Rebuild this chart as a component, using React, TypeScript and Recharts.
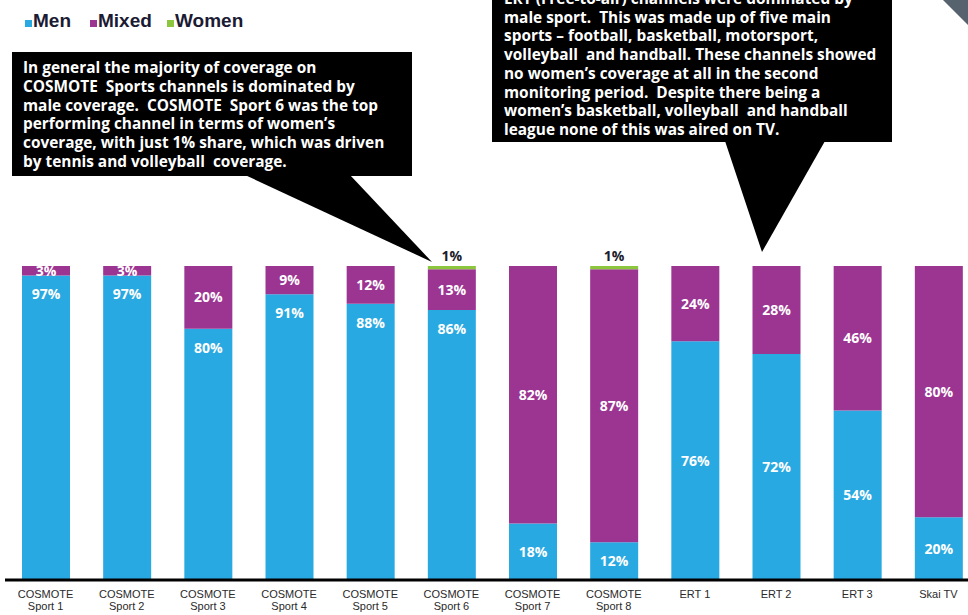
import React from 'react';
import { BarChart, Bar, XAxis, YAxis, LabelList } from 'recharts';

const categories = [
  'COSMOTE\nSport 1', 'COSMOTE\nSport 2', 'COSMOTE\nSport 3', 'COSMOTE\nSport 4',
  'COSMOTE\nSport 5', 'COSMOTE\nSport 6', 'COSMOTE\nSport 7', 'COSMOTE\nSport 8',
  'ERT 1', 'ERT 2', 'ERT 3', 'Skai TV',
];
const men = [97, 97, 80, 91, 88, 86, 18, 12, 76, 72, 54, 20];
const mixed = [3, 3, 20, 9, 12, 13, 82, 87, 24, 28, 46, 80];
const women = [0, 0, 0, 0, 0, 1, 0, 1, 0, 0, 0, 0];

const note1 = [
  'In general the majority of coverage on',
  'COSMOTE  Sports channels is dominated by',
  'male coverage.  COSMOTE  Sport 6 was the top',
  'performing channel in terms of women\u2019s',
  'coverage, with just 1% share, which was driven',
  'by tennis and volleyball  coverage.',
];
const note2 = [
  'ERT (Free-to-air) channels were dominated by',
  'male sport.  This was made up of five main',
  'sports \u2013 football, basketball, motorsport,',
  'volleyball  and handball. These channels showed',
  'no women\u2019s coverage at all in the second',
  'monitoring period.  Despite there being a',
  'women\u2019s basketball, volleyball  and handball',
  'league none of this was aired on TV.',
];

const MEN = '#29a9e1';
const MIXED = '#9c3592';
const WOMEN = '#8cc63f';
const labelFont = '"Open Sans", sans-serif';

const data = categories.map((name, i) => ({
  name,
  Men: men[i],
  Mixed: mixed[i],
  Women: women[i],
}));

const CategoryTick = (props: any) => {
  const { x, y, payload } = props;
  const lines = String(payload.value).split('\n');
  return (
    <text x={x} y={y} textAnchor="middle" fill="#2a2a2a"
      style={{ fontFamily: '"Liberation Sans", Arial, sans-serif', fontSize: 11 }}>
      {lines.map((l, k) => (
        <tspan key={k} x={x} dy={k === 0 ? 10 : 12}>{l}</tspan>
      ))}
    </text>
  );
};

const MenLabel = (props: any) => {
  const { x, y, width, height, value, index } = props;
  const cy = index < 6 ? y + 19 : y + height / 2;
  return (
    <text x={x + width / 2} y={cy} dy={5} textAnchor="middle" fill="#fff"
      style={{ fontFamily: labelFont, fontWeight: 700, fontSize: 14 }}>
      {value}%
    </text>
  );
};

const MixedLabel = (props: any) => {
  const { x, y, width, height, value } = props;
  return (
    <text x={x + width / 2} y={y + height / 2} dy={5} textAnchor="middle" fill="#fff"
      style={{ fontFamily: labelFont, fontWeight: 700, fontSize: 14 }}>
      {value}%
    </text>
  );
};

const WomenLabel = (props: any) => {
  const { x, y, width, value } = props;
  if (!value) return null;
  return (
    <text x={x + width / 2} y={y - 5} textAnchor="middle" fill="#1c1c2c"
      style={{ fontFamily: labelFont, fontWeight: 700, fontSize: 14 }}>
      {value}%
    </text>
  );
};

const Callouts = () => (
  <svg width={968} height={615} style={{ position: 'absolute', left: 0, top: 0, pointerEvents: 'none' }}>
    <polygon points="943,0 968,0 968,25" fill="#56626e" />
    <rect x={12} y={52} width={400} height={124} fill="#000" />
    <polygon points="245,175 350,175 432,262" fill="#000" />
    {note1.map((l, i) => (
      <text key={i} x={23} y={73 + i * 18.8} fill="#fff" xmlSpace="preserve"
        style={{ fontFamily: labelFont, fontWeight: 700, fontSize: 15.4 }}>{l}</text>
    ))}
    <rect x={492} y={-10} width={400} height={152} fill="#000" />
    <polygon points="725,141 825,141 762,252" fill="#000" />
    {note2.map((l, i) => (
      <text key={i} x={504} y={4 + i * 18.7} fill="#fff" xmlSpace="preserve"
        style={{ fontFamily: labelFont, fontWeight: 700, fontSize: 15.4 }}>{l}</text>
    ))}
  </svg>
);

const Legend = () => {
  const items = [
    { name: 'Men', color: MEN, x: 25 },
    { name: 'Mixed', color: MIXED, x: 90 },
    { name: 'Women', color: WOMEN, x: 167 },
  ];
  return (
    <svg width={300} height={40} style={{ position: 'absolute', left: 0, top: 0 }}>
      {items.map((it) => (
        <g key={it.name}>
          <rect x={it.x} y={20} width={7} height={7} fill={it.color} />
          <text x={it.x + 8} y={27} fill="#1b1b33"
            style={{ fontFamily: '"Liberation Sans", Arial, sans-serif', fontWeight: 700, fontSize: 19 }}>
            {it.name}
          </text>
        </g>
      ))}
    </svg>
  );
};

export default function App() {
  return (
    <div style={{ position: 'absolute', left: 0, top: 0, width: 968, height: 615, overflow: 'hidden', background: '#fff' }}>
      <BarChart width={990} height={615} data={data} barSize={48}
        margin={{ top: 266, right: 11, left: 5, bottom: 0 }}>
        <XAxis dataKey="name" interval={0} height={35} tickLine={false}
          axisLine={{ stroke: '#000', strokeWidth: 3 }} tick={<CategoryTick />} />
        <YAxis hide domain={[0, 100]} />
        <Bar dataKey="Men" stackId="a" fill={MEN} isAnimationActive={false}>
          <LabelList dataKey="Men" content={<MenLabel />} />
        </Bar>
        <Bar dataKey="Mixed" stackId="a" fill={MIXED} isAnimationActive={false}>
          <LabelList dataKey="Mixed" content={<MixedLabel />} />
        </Bar>
        <Bar dataKey="Women" stackId="a" fill={WOMEN} isAnimationActive={false}>
          <LabelList dataKey="Women" content={<WomenLabel />} />
        </Bar>
      </BarChart>
      <Callouts />
      <Legend />
    </div>
  );
}
